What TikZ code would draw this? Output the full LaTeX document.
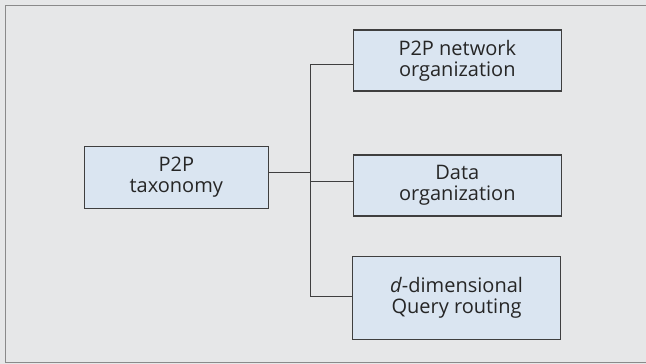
\documentclass[tikz,border=0pt]{standalone}
\usepackage{fontspec}
\setmainfont{Open Sans}
\definecolor{bgc}{HTML}{E6E7E8}
\definecolor{boxc}{HTML}{DAE5F1}
\definecolor{linec}{HTML}{3F3F3F}
\definecolor{framec}{HTML}{8A8A8A}
\begin{document}
\begin{tikzpicture}[x=1pt,y=-1pt,
  tbox/.style={draw=linec,line width=1.1pt,fill=boxc,align=center,inner sep=0pt,
    font=\fontsize{20}{21}\selectfont,text=black!85},
  conn/.style={draw=linec,line width=1pt}]
\useasboundingbox (0,0) rectangle (646,364);
\fill[bgc] (0,0) rectangle (646,364);
\draw[framec,line width=1.5pt] (652,5.5) -- (5.5,5.5) -- (5.5,362.5) -- (652,362.5);
\node[tbox,minimum width=183.5pt,minimum height=61.5pt] (tax) at (176.3,177.5) {P2P\\taxonomy};
\node[tbox,minimum width=207.5pt,minimum height=61pt] (net) at (457.3,60.5) {P2P network\\organization};
\node[tbox,minimum width=207.5pt,minimum height=61pt] (data) at (457.3,185.5) {Data\\organization};
\node[tbox,minimum width=207.5pt,minimum height=82.5pt] (qr) at (456.5,298) {\textit{d}-dimensional\\Query routing};
\coordinate (j) at (310,172);
\draw[conn] (tax.east |- j) -- (j);
\draw[conn] (net.west |- 0,64) -| (310,296.7) -- (qr.west |- 0,296.7);
\draw[conn] (310,181.3) -- (data.west |- 0,181.3);
\end{tikzpicture}
\end{document}
